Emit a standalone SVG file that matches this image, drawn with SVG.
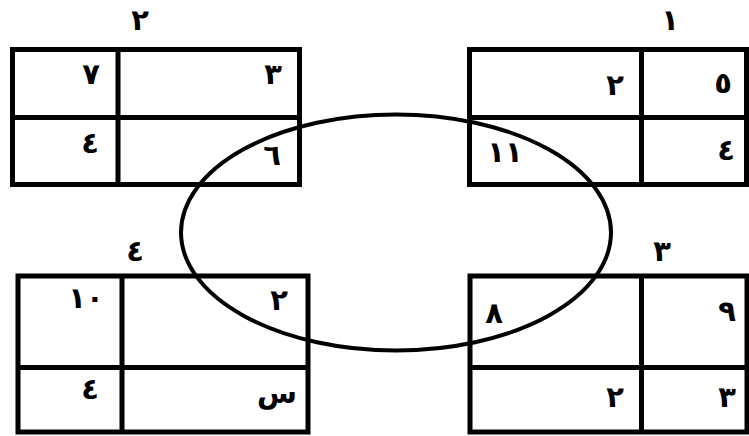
<svg xmlns="http://www.w3.org/2000/svg" width="749" height="436" viewBox="0 0 749 436">
<style>
.tb{fill:none;stroke:#000;stroke-width:5}
.ln{stroke:#000;stroke-width:5}
text{font-family:"DejaVu Sans","Noto Sans",sans-serif;font-weight:bold;font-size:29px;fill:#000;text-anchor:middle}
.ov{fill:none;stroke:#000;stroke-width:4}
</style>
<rect width="749" height="436" fill="#fff"/>
<g id="table2">
<rect class="tb" x="12.5" y="49.5" width="287" height="135"/>
<line class="ln" x1="12.5" y1="117.5" x2="299.5" y2="117.5"/>
<line class="ln" x1="118" y1="49.5" x2="118" y2="184.5"/>
<text x="140" y="30">٢</text>
<text x="91" y="84">٧</text>
<text x="273" y="84">٣</text>
<text x="90" y="153">٤</text>
<text x="272" y="165">٦</text>
</g>
<g id="table1">
<rect class="tb" x="469.5" y="49.5" width="277" height="135"/>
<line class="ln" x1="469.5" y1="117.5" x2="746.5" y2="117.5"/>
<line class="ln" x1="641.5" y1="49.5" x2="641.5" y2="184.5"/>
<text x="670" y="30">١</text>
<text x="615" y="95">٢</text>
<text x="723" y="93">٥</text>
<text x="505" y="162" letter-spacing="6">١١</text>
<text x="726" y="160">٤</text>
</g>
<g id="table4">
<rect class="tb" x="18" y="276" width="290" height="156"/>
<line class="ln" x1="18" y1="367.5" x2="308" y2="367.5"/>
<line class="ln" x1="122" y1="276" x2="122" y2="432"/>
<text x="135" y="261">٤</text>
<text x="86" y="308" letter-spacing="6">١٠</text>
<text x="279" y="310">٢</text>
<text x="90" y="399">٤</text>
<text x="277" y="403" font-size="34">س</text>
</g>
<g id="table3">
<rect class="tb" x="470" y="276" width="277" height="156"/>
<line class="ln" x1="470" y1="367.5" x2="747" y2="367.5"/>
<line class="ln" x1="641.5" y1="276" x2="641.5" y2="432"/>
<text x="662" y="261">٣</text>
<text x="494" y="323">٨</text>
<text x="727" y="321">٩</text>
<text x="615" y="407">٢</text>
<text x="727" y="407">٣</text>
</g>
<g id="connectors">
<ellipse class="ov" cx="396" cy="232.5" rx="215" ry="118"/>
</g>
</svg>
